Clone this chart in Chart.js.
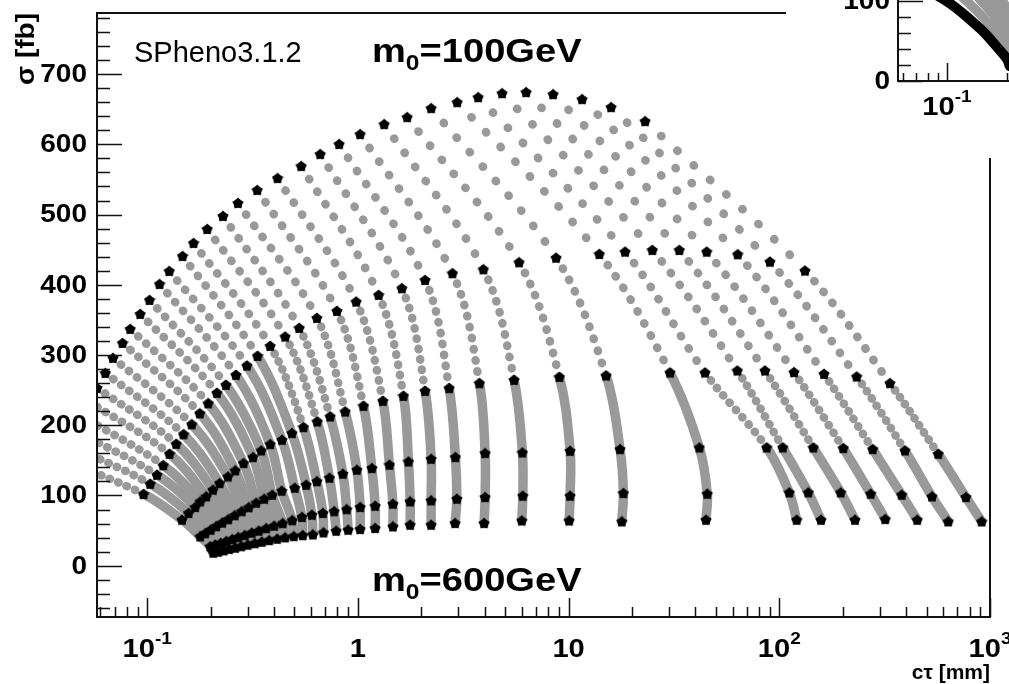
<!DOCTYPE html>
<html>
<head>
<meta charset="utf-8">
<script src="https://cdn.jsdelivr.net/npm/chart.js@4.4.1/dist/chart.umd.min.js"></script>
<style>
  html, body { margin: 0; padding: 0; background: #fff; }
  #wrap { position: relative; width: 1009px; height: 684px; overflow: hidden; background: #fff; }
  #main { position: absolute; left: 0; top: 0; }
  #inset { position: absolute; left: 786px; top: 0; background: #fff; }
</style>
</head>
<body>
<div id="wrap">
  <canvas id="main" width="1009" height="684"></canvas>
  <canvas id="inset" width="223" height="158"></canvas>
</div>
<script>
// one entry per m1/2 column, one array pair per m0 value (100 ... 600 GeV)
const m0Values = [100, 200, 300, 400, 500, 600];

const ctau100 = [0.0379, 0.0413, 0.0448, 0.0487, 0.0531, 0.0578, 0.0633, 0.0688, 0.0764, 0.0831, 0.0927, 0.1026,
  0.1145, 0.1273, 0.1472, 0.166, 0.1928, 0.2289, 0.2697, 0.3329, 0.4155, 0.5383, 0.6627, 0.8151,
  1.025, 1.333, 1.713, 2.227, 2.959, 3.722, 4.836, 6.286, 8.443, 11.59, 15.91, 23.07];
const sigma100 = [153.6, 173.5, 193.5, 213.4, 233.3, 253.2, 274.5, 295.9, 317.2, 337.1, 358.5, 378.4,
  401.1, 419.6, 441.0, 459.5, 479.4, 497.9, 516.4, 534.9, 551.9, 569.0, 586.1, 600.3,
  614.5, 628.7, 638.7, 651.5, 660.0, 667.1, 672.8, 674.3, 671.4, 664.3, 652.9, 633.0];

const ctau200 = [0.0961, 0.1034, 0.1113, 0.1192, 0.1277, 0.1374, 0.1488, 0.1627, 0.1777, 0.1949, 0.2143, 0.2365,
  0.2638, 0.2975, 0.334, 0.3837, 0.4519, 0.5267, 0.6389, 0.7952, 0.9815, 1.255, 1.617, 2.085,
  2.811, 3.943, 5.824, 8.724, 14.0, 18.54, 24.98, 33.54, 45.24, 63.49, 90.34, 132.4];
const sigma200 = [102.0, 116.6, 129.4, 143.0, 159.3, 173.5, 187.1, 201.3, 216.9, 231.2, 246.1, 257.5,
  271.7, 284.9, 298.7, 312.9, 326.2, 338.5, 352.8, 362.7, 376.0, 385.5, 395.0, 406.8,
  416.4, 422.0, 432.0, 438.5, 443.8, 447.1, 449.5, 449.5, 447.1, 443.4, 432.9, 420.1];

const ctau300 = [0.1463, 0.1572, 0.1691, 0.1786, 0.1907, 0.2051, 0.2206, 0.2416, 0.2618, 0.2866, 0.3176, 0.3477,
  0.3837, 0.436, 0.4862, 0.5519, 0.6411, 0.7388, 0.8704, 1.063, 1.314, 1.646, 2.085, 2.711,
  3.775, 5.513, 9.045, 15.07, 30.3, 44.41, 63.21, 85.54, 117.4, 163.0, 232.9, 335.1];
const sigma300 = [65.4, 75.0, 83.5, 91.5, 98.6, 108.1, 117.6, 127.0, 135.6, 146.1, 154.6, 164.0,
  173.1, 179.2, 188.8, 197.3, 205.3, 212.4, 219.5, 227.6, 234.7, 241.8, 248.9, 252.8,
  259.9, 264.6, 268.8, 270.7, 275.0, 275.0, 277.8, 277.8, 275.5, 273.1, 269.3, 259.9];

const ctau400 = [0.1786, 0.1886, 0.2002, 0.2127, 0.2271, 0.2425, 0.2603, 0.281, 0.3034, 0.3293, 0.3593, 0.3922,
  0.435, 0.5014, 0.5684, 0.6389, 0.7331, 0.8488, 0.9891, 1.165, 1.412, 1.738, 2.227, 2.904,
  4.017, 6.037, 10.17, 17.55, 41.74, 87.13, 103.8, 145.0, 201.2, 277.4, 394.8, 567.9];
const sigma400 = [41.7, 46.2, 51.2, 56.2, 61.2, 66.1, 71.8, 77.5, 83.2, 89.6, 95.3, 101.0,
  106.7, 111.0, 115.2, 120.2, 125.2, 130.9, 136.6, 139.0, 143.7, 148.4, 152.2, 154.6,
  160.3, 161.2, 163.6, 166.0, 168.3, 168.3, 168.3, 168.3, 167.4, 166.0, 164.0, 159.3];

const ctau500 = [0.1992, 0.2103, 0.2234, 0.2372, 0.2533, 0.2705, 0.2904, 0.3134, 0.3384, 0.3673, 0.4009, 0.4397,
  0.4879, 0.5424, 0.6049, 0.6823, 0.772, 0.8849, 1.025, 1.208, 1.466, 1.771, 2.227, 2.949,
  4.017, 6.064, 10.17, 18.2, 45.53, 111.5, 137.3, 195.6, 271.4, 380.7, 530.3, 768.6];
const sigma500 = [27.5, 29.9, 32.3, 34.9, 37.7, 40.5, 43.4, 46.9, 49.8, 53.3, 56.9, 60.5,
  64.7, 69.3, 72.5, 75.0, 77.5, 80.4, 83.5, 85.3, 88.2, 91.5, 92.9, 95.3,
  97.7, 99.6, 99.6, 103.4, 102.4, 104.3, 104.3, 104.3, 102.4, 101.0, 98.6, 97.7];

const ctau600 = [0.2059, 0.2175, 0.2309, 0.2452, 0.2618, 0.2795, 0.3001, 0.3239, 0.3497, 0.3796, 0.4142, 0.4519,
  0.4959, 0.5472, 0.6115, 0.6868, 0.789, 0.8995, 1.025, 1.208, 1.466, 1.771, 2.227, 2.894,
  3.973, 5.998, 10.06, 17.88, 44.9, 120.9, 157.7, 228.6, 318.3, 451.5, 633.5, 912.6];
const sigma600 = [18.5, 19.9, 21.8, 23.8, 25.6, 27.7, 29.9, 32.0, 34.1, 36.3, 38.4, 40.3,
  42.0, 43.4, 44.5, 47.4, 49.8, 51.2, 52.2, 53.6, 55.9, 58.3, 58.3, 60.7,
  60.7, 64.4, 64.4, 63.0, 65.4, 65.4, 65.4, 65.4, 66.4, 65.4, 63.0, 63.0];

// axis labels
const xTickValues = [0.1, 1, 10, 100, 1000];
const xTickBase = ['10', '1', '10', '10', '10'];
const xTickExp = ['-1', '', '', '2', '3'];
const yTickValues = [0, 100, 200, 300, 400, 500, 600, 700];

const rowsCtau = [ctau100, ctau200, ctau300, ctau400, ctau500, ctau600];
const rowsSigma = [sigma100, sigma200, sigma300, sigma400, sigma500, sigma600];
const nCols = ctau100.length;

const GRAY = '#999999';
const FONT = '"Liberation Sans", Arial, Helvetica, sans-serif';
const WIDE = 1.12;   // the bold labels run a little wider than Liberation Sans Bold

function rowPoints(r) {
  return rowsCtau[r].map((x, c) => ({ x: x, y: rowsSigma[r][c] }));
}
function columnPoints(c) {
  return rowsCtau.map((xs, r) => ({ x: xs[c], y: rowsSigma[r][c] }));
}

// small filled star, like the ROOT full-star marker
function starImage(color, size, inner) {
  const cv = document.createElement('canvas');
  cv.width = size; cv.height = size;
  const g = cv.getContext('2d');
  const cx = size / 2, cy = size / 2 + 0.5, R = size / 2;
  g.beginPath();
  for (let i = 0; i < 10; i++) {
    const a = -Math.PI / 2 + i * Math.PI / 5;
    const rr = i % 2 ? R * inner : R;
    g.lineTo(cx + rr * Math.cos(a), cy + rr * Math.sin(a));
  }
  g.closePath();
  g.fillStyle = color;
  g.fill();
  return cv;
}
const blackStar = starImage('#000', 12, 0.72);

// the m0 steps between two black rows are 10 GeV apart: show them as dots
// while they are spread out, as a solid band once they start to overlap
function stepOf(ctx) {
  return Math.hypot(ctx.p1.x - ctx.p0.x, ctx.p1.y - ctx.p0.y) / 10;
}
function markerDash(ctx) {
  const step = stepOf(ctx);
  return step < 8.5 ? [] : [0.5, step - 0.5];
}
function markerWidth(ctx) {
  return stepOf(ctx) < 8.5 ? 9.5 : 8.5;
}

function columnDataset(c, color, width) {
  return {
    data: columnPoints(c),
    showLine: true,
    borderColor: color,
    borderWidth: width,
    borderCapStyle: 'round',
    borderJoinStyle: 'round',
    tension: 0.35,
    pointRadius: 0,
    order: 1,
    clip: 0,
    segment: { borderDash: markerDash, borderDashOffset: 0.25, borderWidth: markerWidth }
  };
}

// text drawn with a horizontal stretch; returns the drawn width
function wideText(g, text, x, y, align, sx) {
  const w = g.measureText(text).width * sx;
  const left = align === 'right' ? x - w : align === 'center' ? x - w / 2 : x;
  g.save();
  g.translate(left, y);
  g.scale(sx, 1);
  g.textAlign = 'left';
  g.fillText(text, 0, 0);
  g.restore();
  return w;
}

function superLabel(g, base, exp, cx, cy, size) {
  const es = Math.round(size * 0.66);
  g.font = 'bold ' + size + 'px ' + FONT;
  const wb = g.measureText(base).width * WIDE;
  g.font = 'bold ' + es + 'px ' + FONT;
  const we = exp ? g.measureText(exp).width * WIDE : 0;
  const x0 = cx - (wb + we) / 2;
  g.textBaseline = 'middle';
  g.font = 'bold ' + size + 'px ' + FONT;
  wideText(g, base, x0, cy, 'left', WIDE);
  if (exp) {
    g.font = 'bold ' + es + 'px ' + FONT;
    wideText(g, exp, x0 + wb, cy - size * 0.42, 'left', WIDE);
  }
}

function massLabel(g, x, yBase, value) {
  g.textBaseline = 'alphabetic';
  g.font = 'bold 34px ' + FONT;
  let w = wideText(g, 'm', x, yBase, 'left', WIDE);
  g.font = 'bold 22px ' + FONT;
  w += wideText(g, '0', x + w, yBase + 8, 'left', WIDE);
  g.font = 'bold 34px ' + FONT;
  wideText(g, '=' + value + 'GeV', x + w, yBase, 'left', WIDE);
}

const INSET_LEFT = 786, INSET_BOTTOM = 158;

const mainFrame = {
  id: 'mainFrame',
  afterDraw(chart) {
    const g = chart.ctx, a = chart.chartArea;
    const xs = chart.scales.x, ys = chart.scales.y;
    g.save();
    g.strokeStyle = '#111';
    g.lineWidth = 2;
    g.beginPath();
    g.moveTo(INSET_LEFT, a.top);
    g.lineTo(a.left, a.top);
    g.lineTo(a.left, a.bottom);
    g.lineTo(a.right, a.bottom);
    g.lineTo(a.right, INSET_BOTTOM);
    g.stroke();

    // inward ticks
    g.lineWidth = 1.5;
    g.beginPath();
    for (let v = Math.ceil(ys.min / 20) * 20; v <= ys.max; v += 20) {
      const y = Math.round(ys.getPixelForValue(v)) + 0.5;
      g.moveTo(a.left, y);
      g.lineTo(a.left + (v % 100 === 0 ? 25 : 13), y);
    }
    for (let d = -2; d <= 3; d++) {
      for (let k = 1; k <= 9; k++) {
        const v = k * Math.pow(10, d);
        if (v < xs.min || v > xs.max) continue;
        const x = Math.round(xs.getPixelForValue(v)) + 0.5;
        g.moveTo(x, a.bottom);
        g.lineTo(x, a.bottom - (k === 1 ? 19 : 10));
      }
    }
    g.stroke();

    g.fillStyle = '#000';
    g.font = 'bold 25px ' + FONT;
    g.textBaseline = 'middle';
    yTickValues.forEach(v => wideText(g, String(v), a.left - 10, ys.getPixelForValue(v) + 1, 'right', WIDE));
    xTickValues.forEach((v, i) => superLabel(g, xTickBase[i], xTickExp[i], xs.getPixelForValue(v), 650, 26));

    // axis titles
    g.textBaseline = 'alphabetic';
    g.font = 'bold 21px ' + FONT;
    wideText(g, 'c\u03c4 [mm]', a.right, 679, 'right', 1);
    g.save();
    g.translate(34, a.top);
    g.rotate(-Math.PI / 2);
    g.font = 'bold 25px ' + FONT;
    wideText(g, '\u03c3 [fb]', 0, 0, 'right', WIDE);
    g.restore();

    g.font = '29px ' + FONT;
    g.textAlign = 'left';
    g.fillText('SPheno3.1.2', 134, 62);
    massLabel(g, 372, 62, 100);
    massLabel(g, 372, 591, 600);
    g.restore();
  }
};

const datasets = [];
for (let r = 0; r < rowsCtau.length; r++) {
  datasets.push({
    label: 'm0 = ' + m0Values[r] + ' GeV',
    data: rowPoints(r),
    showLine: false,
    pointStyle: blackStar,
    pointRadius: 6,
    order: 0,
    clip: 0
  });
}
for (let c = 0; c < nCols; c++) datasets.push(columnDataset(c, GRAY, 8.5));

new Chart(document.getElementById('main'), {
  type: 'scatter',
  data: { datasets: datasets },
  options: {
    responsive: false,
    animation: false,
    events: [],
    layout: { padding: { left: 97, right: 19, top: 13, bottom: 67 } },
    elements: { line: { capBezierPoints: false } },
    plugins: { legend: { display: false }, tooltip: { enabled: false } },
    scales: {
      x: { type: 'logarithmic', min: 0.0578, max: 1000, display: false },
      y: { type: 'linear', min: -73, max: 787, display: false }
    }
  },
  plugins: [mainFrame]
});

// inset pad: same scan, zoomed on the low cross-section corner
const insetFrame = {
  id: 'insetFrame',
  afterDraw(chart) {
    const g = chart.ctx, a = chart.chartArea;
    const xs = chart.scales.x, ys = chart.scales.y;
    g.save();
    g.strokeStyle = '#111';
    g.lineWidth = 2;
    g.beginPath();
    g.moveTo(a.left, a.top);
    g.lineTo(a.left, a.bottom);
    g.lineTo(a.right, a.bottom);
    g.stroke();
    g.lineWidth = 1.5;
    g.beginPath();
    for (let v = 0; v <= ys.max; v += 20) {
      const y = Math.round(ys.getPixelForValue(v)) + 0.5;
      g.moveTo(a.left, y);
      g.lineTo(a.left + (v % 100 === 0 ? 25 : 13), y);
    }
    for (let k = 1; k <= 9; k++) {
      [0.01, 0.1].forEach(dec => {
        const v = k * dec;
        if (v < xs.min || v > xs.max) return;
        const x = Math.round(xs.getPixelForValue(v)) + 0.5;
        g.moveTo(x, a.bottom);
        g.lineTo(x, a.bottom - (k === 1 ? 18 : 8));
      });
    }
    g.stroke();
    g.fillStyle = '#000';
    g.font = 'bold 25px ' + FONT;
    g.textBaseline = 'middle';
    [0, 100].forEach(v => wideText(g, String(v), a.left - 8, ys.getPixelForValue(v) + 1, 'right', WIDE));
    superLabel(g, '10', '-1', xs.getPixelForValue(0.1), 108, 26);
    g.restore();
  }
};

const insetSets = [];
for (let c = 1; c < nCols; c++) insetSets.push(columnDataset(c, GRAY, 8.5));
const edge = columnDataset(0, '#000', 10);
edge.order = 0;
edge.segment = undefined;
insetSets.push(edge);

new Chart(document.getElementById('inset'), {
  type: 'scatter',
  data: { datasets: insetSets },
  options: {
    responsive: false,
    animation: false,
    events: [],
    layout: { padding: { left: 112, right: 0, top: 0, bottom: 77 } },
    elements: { line: { capBezierPoints: false } },
    plugins: { legend: { display: false }, tooltip: { enabled: false } },
    scales: {
      x: { type: 'logarithmic', min: 0.0569, max: 0.204, display: false },
      y: { type: 'linear', min: 0, max: 101, display: false }
    }
  },
  plugins: [insetFrame]
});
</script>
</body>
</html>
